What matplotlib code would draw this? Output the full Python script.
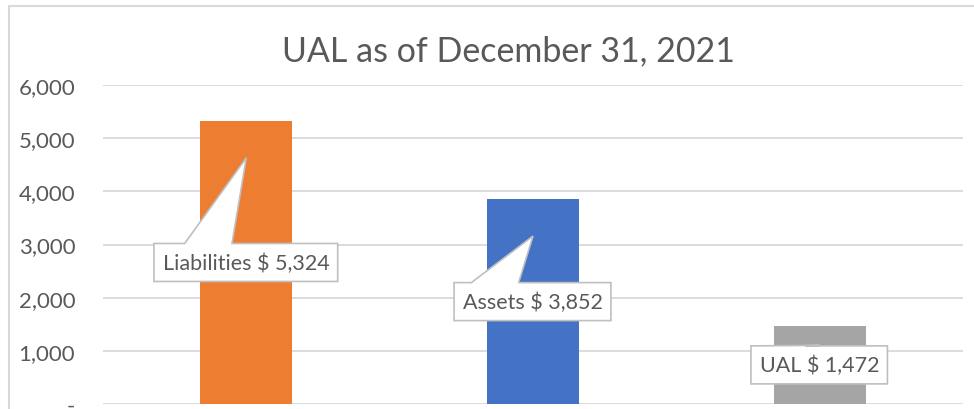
import matplotlib.pyplot as plt
from matplotlib.patches import Polygon, Rectangle
import matplotlib.ticker as ticker

categories = ['Liabilities', 'Assets', 'UAL']
values = [5324, 3852, 1472]
labels = ['Liabilities $ 5,324', 'Assets $ 3,852', 'UAL $ 1,472']
colors = ['#ED7D31', '#4472C4', '#A5A5A5']
tip_frac = [0.87, 0.82, 0.75]   # where the callout pointer ends, as share of bar

plt.rcParams['font.family'] = ['Lato', 'DejaVu Sans']
txt = '#595959'

fig = plt.figure(figsize=(9.74, 4.10), dpi=100)
W, H = 974, 410
x0, x1 = 103, 963
y0, y6 = 405, 86
ax = fig.add_axes([x0 / W, (H - y0) / H, (x1 - x0) / W, (y0 - y6) / H])

xs = list(range(len(categories)))
ax.bar(xs, values, width=0.32, color=colors, zorder=2)
ax.set_xlim(-0.5, 2.5)
ax.set_ylim(0, 6000)
ax.set_yticks(range(0, 6001, 1000))
ax.yaxis.set_major_formatter(ticker.FuncFormatter(
    lambda v, p: '-' if v == 0 else f'{int(v):,}'))
ax.tick_params(axis='y', length=0, pad=20, labelsize=16, labelcolor=txt)
ax.set_xticks([])
ax.grid(axis='y', color='#D9D9D9', linewidth=1.3, zorder=0)
ax.set_axisbelow(True)
for s in ax.spines.values():
    s.set_visible(False)

fig.text(508 / W, 1 - 51 / H, 'UAL as of December 31, 2021', ha='center',
         va='center', fontsize=24.5, color=txt)

# chart outer border (left and top visible)
fig.patches.append(Rectangle((8.5 / W, -0.1), 2, (H - 6.5) / H + 0.1,
                             transform=fig.transFigure, fill=False,
                             edgecolor='#D9D9D9', linewidth=1.5))

# callout labels
texts = []
for i, v in enumerate(values):
    t = ax.text(i, v / 2, labels[i], ha='center', va='center', fontsize=15.5,
                color=txt, zorder=6)
    texts.append(t)

fig.canvas.draw()
inv = ax.transData.inverted()
for i, v in enumerate(values):
    bb = texts[i].get_window_extent()
    bx0, bx1 = bb.x0 - 9, bb.x1 + 8
    by0 = (bb.y0 + bb.y1) / 2 - 19
    by1 = (bb.y0 + bb.y1) / 2 + 19
    tip = ax.transData.transform((i, v * tip_frac[i]))
    b1 = ax.transData.transform((i - 0.215, 0))[0]
    b2 = ax.transData.transform((i - 0.05, 0))[0]
    pts = [(bx0, by0), (bx1, by0), (bx1, by1), (b2, by1), tuple(tip),
           (b1, by1), (bx0, by1)]
    pts = inv.transform(pts)
    ax.add_patch(Polygon(pts, closed=True, facecolor='white',
                         edgecolor='#BFBFBF', linewidth=1.2, zorder=5))

plt.savefig('out.png', dpi=100)
